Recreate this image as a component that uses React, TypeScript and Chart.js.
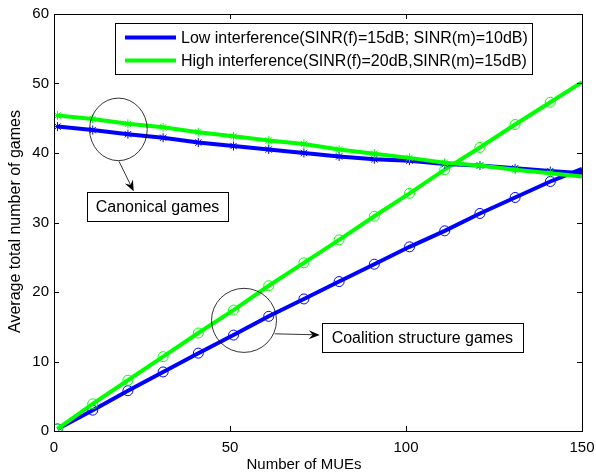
import React, { useEffect, useRef } from "react";
import { Chart, registerables } from "chart.js";

Chart.register(...registerables);

// ---- data ----
const X_VALUES = [1, 11, 21, 31, 41, 51, 61, 71, 81, 91, 101, 111, 121, 131, 141, 150];
const LOW_CANONICAL = [43.8, 43.3, 42.7, 42.2, 41.5, 41.0, 40.5, 40.0, 39.5, 39.1, 38.9, 38.4, 38.2, 37.8, 37.4, 37.1];
const HIGH_CANONICAL = [45.4, 44.9, 44.2, 43.7, 43.0, 42.4, 41.8, 41.3, 40.5, 39.9, 39.3, 38.6, 38.2, 37.6, 37.1, 36.6];
const LOW_COALITION = [0.3, 3.0, 5.8, 8.5, 11.2, 13.8, 16.5, 19.0, 21.5, 24.0, 26.5, 28.8, 31.3, 33.6, 35.9, 37.7];
const HIGH_COALITION = [0.3, 3.9, 7.3, 10.7, 14.1, 17.4, 20.9, 24.2, 27.5, 30.9, 34.2, 37.6, 40.8, 44.1, 47.3, 50.2];
const X_TICKS = [0, 50, 100, 150];
const Y_TICKS = [0, 10, 20, 30, 40, 50, 60];
const LEGEND_LABELS = [
  "Low interference(SINR(f)=15dB; SINR(m)=10dB)",
  "High interference(SINR(f)=20dB,SINR(m)=15dB)",
];
const X_TITLE = "Number of MUEs";
const Y_TITLE = "Average total number of games";
const NOTE_CANONICAL = "Canonical games";
const NOTE_COALITION = "Coalition structure games";

const BLUE = "#0000ff";
const GREEN = "#00ff00";
const FONT = "'Liberation Sans', Arial, Helvetica, sans-serif";

// annotation anchors in data units
const ANNOTATIONS = {
  circle1: { cx: 18.3, cy: 43.4, rx: 8.18, ry: 4.5 },
  arrow1: { x1: 18.47, y1: 38.8, x2: 22.64, y2: 34.48 },
  box1: { x1: 9.38, y1: 34.39, x2: 49.43, y2: 30.16 },
  circle2: { cx: 53.98, cy: 15.92, rx: 9.23, ry: 4.61 },
  arrow2: { x1: 62.7, y1: 13.98, x2: 75.5, y2: 13.83 },
  box2: { x1: 76.1, y1: 15.52, x2: 133.2, y2: 11.34 },
};

function toPoints(ys: number[]) {
  return X_VALUES.map((x, i) => ({ x, y: ys[i] }));
}

function drawArrow(ctx: CanvasRenderingContext2D, x1: number, y1: number, x2: number, y2: number) {
  const ang = Math.atan2(y2 - y1, x2 - x1);
  const len = 11;
  const hw = 4.5;
  const ux = Math.cos(ang), uy = Math.sin(ang);
  const px = -uy, py = ux;
  const bx = x2 - ux * len, by = y2 - uy * len;
  const ix = x2 - ux * len * 0.65, iy = y2 - uy * len * 0.65;
  ctx.save();
  ctx.strokeStyle = "#000";
  ctx.lineWidth = 0.8;
  ctx.beginPath();
  ctx.moveTo(x1, y1);
  ctx.lineTo(ix, iy);
  ctx.stroke();
  ctx.fillStyle = "#000";
  ctx.beginPath();
  ctx.moveTo(x2, y2);
  ctx.lineTo(bx + px * hw, by + py * hw);
  ctx.lineTo(ix, iy);
  ctx.lineTo(bx - px * hw, by - py * hw);
  ctx.closePath();
  ctx.fill();
  ctx.restore();
}

const decorPlugin = {
  id: "decor",
  afterDraw(chart: any) {
    const ctx: CanvasRenderingContext2D = chart.ctx;
    const { left, right, top, bottom } = chart.chartArea;
    const xs = chart.scales.x;
    const ys = chart.scales.y;
    ctx.save();
    // frame
    ctx.strokeStyle = "#000";
    ctx.lineWidth = 1;
    ctx.strokeRect(Math.round(left) + 0.5, Math.round(top) + 0.5, Math.round(right - left), Math.round(bottom - top));
    // inside ticks
    const tl = 5;
    ctx.beginPath();
    X_TICKS.forEach((v) => {
      const p = Math.round(xs.getPixelForValue(v)) + 0.5;
      ctx.moveTo(p, bottom);
      ctx.lineTo(p, bottom - tl);
      ctx.moveTo(p, top);
      ctx.lineTo(p, top + tl);
    });
    Y_TICKS.forEach((v) => {
      const p = Math.round(ys.getPixelForValue(v)) + 0.5;
      ctx.moveTo(left, p);
      ctx.lineTo(left + tl, p);
      ctx.moveTo(right, p);
      ctx.lineTo(right - tl, p);
    });
    ctx.stroke();

    // axis titles
    ctx.fillStyle = "#000";
    ctx.font = `15px ${FONT}`;
    ctx.textAlign = "center";
    ctx.textBaseline = "middle";
    ctx.fillText(X_TITLE, 304, 465);
    ctx.save();
    ctx.translate(16, (top + bottom) / 2 - 1);
    ctx.rotate(-Math.PI / 2);
    ctx.font = `16px ${FONT}`;
    ctx.fillText(Y_TITLE, 0, 0);
    ctx.restore();

    // legend
    const lx = left + 61, ly = top + 9, lw = 417, lh = 51;
    ctx.fillStyle = "#fff";
    ctx.fillRect(lx, ly, lw, lh);
    ctx.strokeStyle = "#000";
    ctx.lineWidth = 1;
    ctx.strokeRect(Math.round(lx) + 0.5, Math.round(ly) + 0.5, lw, lh);
    const rows = [
      { label: LEGEND_LABELS[0], color: BLUE, y: ly + 14.5 },
      { label: LEGEND_LABELS[1], color: GREEN, y: ly + 37.5 },
    ];
    ctx.font = `16px ${FONT}`;
    ctx.textAlign = "left";
    rows.forEach((r) => {
      ctx.strokeStyle = r.color;
      ctx.lineWidth = 4;
      ctx.beginPath();
      ctx.moveTo(lx + 10, r.y);
      ctx.lineTo(lx + 61, r.y);
      ctx.stroke();
      ctx.fillStyle = "#000";
      ctx.fillText(r.label, lx + 66, r.y + 1);
    });

    // annotations
    const X = (v: number) => xs.getPixelForValue(v);
    const Y = (v: number) => ys.getPixelForValue(v);
    const ellipse = (c: { cx: number; cy: number; rx: number; ry: number }) => {
      const cx = X(c.cx), cy = Y(c.cy);
      const rx = X(c.cx + c.rx) - cx;
      const ry = cy - Y(c.cy + c.ry);
      ctx.strokeStyle = "#000";
      ctx.lineWidth = 0.8;
      ctx.beginPath();
      ctx.ellipse(cx, cy, rx, ry, 0, 0, Math.PI * 2);
      ctx.stroke();
    };
    const box = (b: { x1: number; y1: number; x2: number; y2: number }, text: string) => {
      const x1 = X(b.x1), y1 = Y(b.y1), x2 = X(b.x2), y2 = Y(b.y2);
      ctx.fillStyle = "#fff";
      ctx.fillRect(x1, y1, x2 - x1, y2 - y1);
      ctx.strokeStyle = "#000";
      ctx.lineWidth = 1;
      ctx.strokeRect(Math.round(x1) + 0.5, Math.round(y1) + 0.5, Math.round(x2 - x1), Math.round(y2 - y1));
      ctx.fillStyle = "#000";
      ctx.font = `16px ${FONT}`;
      ctx.textAlign = "center";
      ctx.textBaseline = "middle";
      ctx.fillText(text, (x1 + x2) / 2, (y1 + y2) / 2 + 1);
    };
    const A = ANNOTATIONS;
    ellipse(A.circle1);
    ellipse(A.circle2);
    drawArrow(ctx, X(A.arrow1.x1), Y(A.arrow1.y1), X(A.arrow1.x2), Y(A.arrow1.y2));
    drawArrow(ctx, X(A.arrow2.x1), Y(A.arrow2.y1), X(A.arrow2.x2), Y(A.arrow2.y2));
    box(A.box1, NOTE_CANONICAL);
    box(A.box2, NOTE_COALITION);
    ctx.restore();
  },
};

function makeDataset(ys: number[], color: string, style: string) {
  const last = X_VALUES.length - 1;
  return {
    data: toPoints(ys),
    borderColor: color,
    borderWidth: 4,
    pointStyle: style,
    pointBorderColor: color,
    pointBackgroundColor: "rgba(0,0,0,0)",
    pointBorderWidth: 1,
    pointRadius: (c: any) => (c.dataIndex === last ? 0 : style === "circle" ? 5 : 4.5),
    pointHoverRadius: 0,
    tension: 0,
    fill: false,
  };
}

export default function App() {
  const ref = useRef<HTMLCanvasElement | null>(null);
  useEffect(() => {
    if (!ref.current) return;
    const tickFont = { family: FONT, size: 15 };
    const chart = new Chart(ref.current, {
      type: "line",
      data: {
        datasets: [
          makeDataset(HIGH_CANONICAL, GREEN, "star"),
          makeDataset(LOW_CANONICAL, BLUE, "star"),
          makeDataset(HIGH_COALITION, GREEN, "circle"),
          makeDataset(LOW_COALITION, BLUE, "circle"),
        ] as any,
      },
      options: {
        animation: false,
        responsive: false,
        events: [],
        layout: { padding: { top: 14, right: 14, left: 0, bottom: 0 } },
        plugins: { legend: { display: false }, tooltip: { enabled: false } },
        scales: {
          x: {
            type: "linear",
            min: 0,
            max: 150,
            grid: { display: false, drawTicks: false },
            border: { display: false },
            ticks: { font: tickFont, color: "#000", padding: 8, maxRotation: 0, autoSkip: false },
            afterBuildTicks: (s: any) => {
              s.ticks = X_TICKS.map((v) => ({ value: v }));
            },
            afterFit: (s: any) => {
              s.height = 44;
              s.paddingLeft = 0;
              s.paddingRight = 0;
            },
          },
          y: {
            type: "linear",
            min: 0,
            max: 60,
            grid: { display: false, drawTicks: false },
            border: { display: false },
            ticks: { font: tickFont, color: "#000", padding: 5, autoSkip: false },
            afterBuildTicks: (s: any) => {
              s.ticks = Y_TICKS.map((v) => ({ value: v }));
            },
            afterFit: (s: any) => {
              s.width = 54;
              s.paddingTop = 0;
              s.paddingBottom = 0;
            },
          },
        },
      } as any,
      plugins: [decorPlugin],
    });
    return () => chart.destroy();
  }, []);
  return (
    <div style={{ position: "absolute", left: 0, top: 0, width: 596, height: 475, background: "#fff" }}>
      <canvas ref={ref} width={596} height={475} style={{ display: "block" }} />
    </div>
  );
}
